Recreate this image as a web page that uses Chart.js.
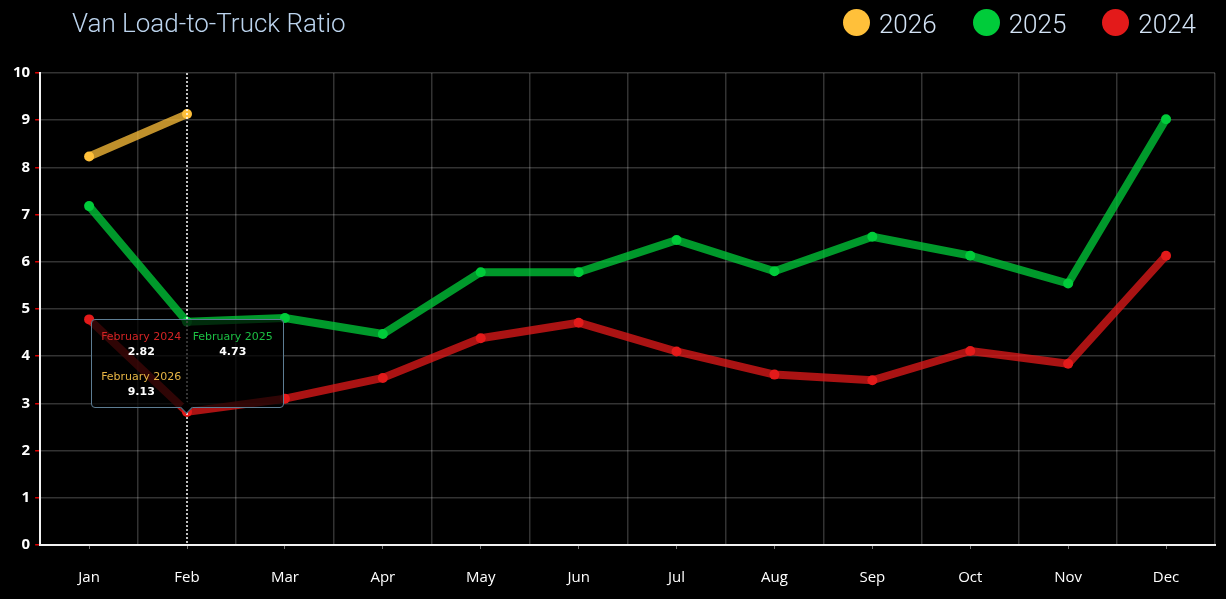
<!DOCTYPE html>
<html>
<head>
<meta charset="utf-8">
<script src="https://cdn.jsdelivr.net/npm/chart.js@4.4.1/dist/chart.umd.min.js"></script>
<style>
  html, body { margin: 0; padding: 0; background: #000; }
  #wrap { position: relative; width: 1226px; height: 599px; overflow: hidden; }
  #title {
    position: absolute; left: 72px; top: 10px;
    font: 300 26px/26px Roboto, sans-serif; color: #bcd4ee; white-space: nowrap;
  }
  #legend {
    position: absolute; right: 30px; top: 9px; display: flex; align-items: center;
    font: 300 26px/26px Roboto, sans-serif; color: #d3e3f5;
  }
  #legend .item { display: flex; align-items: center; margin-left: 36px; }
  #legend .dot { width: 27px; height: 27px; border-radius: 50%; margin-right: 9px; }
  #legend .txt { position: relative; top: 1px; }
  #tip {
    position: absolute; display: none; width: 193px; box-sizing: border-box;
    padding: 10px 4px 8px; background: rgba(0, 0, 0, 0.72);
    border: 1px solid #5d7d93; border-radius: 4px;
    grid-template-columns: 1fr 1fr; row-gap: 11px;
    font: 11px/14px "DejaVu Sans", Verdana, sans-serif; text-align: center;
    pointer-events: none;
  }
  #tip .v { color: #fff; font-weight: bold; margin-top: 1px; }
  #tip::after {
    content: ""; position: absolute; left: 50%; bottom: -5px; width: 8px; height: 8px;
    margin-left: -5px; background: #000; border-right: 1px solid #5d7d93;
    border-bottom: 1px solid #5d7d93; transform: rotate(45deg);
  }
</style>
</head>
<body>
<div id="wrap">
  <canvas id="chart"></canvas>
  <div id="title">Van Load-to-Truck Ratio</div>
  <div id="legend"></div>
  <div id="tip"></div>
</div>
<script>
// DATA
const months = ["Jan", "Feb", "Mar", "Apr", "May", "Jun", "Jul", "Aug", "Sep", "Oct", "Nov", "Dec"];
const monthNames = ["January", "February", "March", "April", "May", "June", "July",
  "August", "September", "October", "November", "December"];
const years = ["2026", "2025", "2024"];
const ratio2026 = [8.23, 9.13, null, null, null, null, null, null, null, null, null, null];
const ratio2025 = [7.18, 4.73, 4.81, 4.47, 5.78, 5.78, 6.46, 5.80, 6.53, 6.13, 5.54, 9.02];
const ratio2024 = [4.78, 2.82, 3.10, 3.54, 4.38, 4.71, 4.10, 3.61, 3.49, 4.11, 3.84, 6.13];
const yTicks = [0, 1, 2, 3, 4, 5, 6, 7, 8, 9, 10];
const activeMonth = 1;

// COLOURS
const pointColors = ["#ffc03a", "#00cc3a", "#e31a1a"];
const lineColors = ["rgba(255,192,58,0.75)", "rgba(0,204,58,0.75)", "rgba(227,26,26,0.75)"];
const tipColors = ["#e6b444", "#1cbf43", "#d22424"];

// TOOLTIP
const tooltipPlugin = Chart.registry.getPlugin("tooltip");
tooltipPlugin.positioners.lowest = function (items) {
  if (!items.length) return false;
  let y = 0;
  items.forEach((it) => { y = Math.max(y, it.element.y); });
  return { x: items[0].element.x, y: y };
};

function externalTip(context) {
  const tooltip = context.tooltip;
  const el = document.getElementById("tip");
  if (tooltip.opacity === 0 || !tooltip.dataPoints || !tooltip.dataPoints.length) {
    el.style.display = "none";
    return;
  }
  el.innerHTML = tooltip.dataPoints.map((dp) =>
    '<div><div style="color:' + tipColors[dp.datasetIndex] + '">' +
    monthNames[dp.dataIndex] + " " + dp.dataset.label + '</div><div class="v">' +
    dp.parsed.y.toFixed(2) + "</div></div>").join("");
  el.style.display = "grid";
  el.style.left = (tooltip.caretX - el.offsetWidth / 2) + "px";
  el.style.top = (tooltip.caretY - el.offsetHeight - 4) + "px";
}

// CROSSHAIR
const crosshair = {
  id: "crosshair",
  afterDatasetsDraw(chart) {
    const act = chart.tooltip.getActiveElements();
    if (!act.length) return;
    const x = act[0].element.x;
    const { top, bottom } = chart.chartArea;
    const ctx = chart.ctx;
    ctx.save();
    ctx.setLineDash([2, 2]);
    ctx.lineWidth = 2;
    ctx.strokeStyle = "rgba(255,255,255,0.75)";
    ctx.beginPath();
    ctx.moveTo(x, top);
    ctx.lineTo(x, bottom);
    ctx.stroke();
    ctx.restore();
  },
};

function series(label, data, i) {
  return {
    label: label,
    data: data,
    borderColor: lineColors[i],
    backgroundColor: pointColors[i],
    pointBackgroundColor: pointColors[i],
    pointBorderWidth: 0,
    pointRadius: 5,
    pointHoverRadius: 5,
    borderWidth: 8,
    borderCapStyle: "round",
    borderJoinStyle: "round",
    tension: 0,
    spanGaps: false,
  };
}

const ctx = document.getElementById("chart");

const chart = new Chart(ctx, {
  type: "line",
  data: {
    labels: months,
    datasets: [
      series(years[0], ratio2026, 0),
      series(years[1], ratio2025, 1),
      series(years[2], ratio2024, 2),
    ],
  },
  options: {
    responsive: true,
    maintainAspectRatio: false,
    animation: false,
    layout: { padding: { left: 8, right: 11, top: 73, bottom: -8 } },
    interaction: { mode: "index", intersect: false },
    plugins: {
      legend: { display: false },
      tooltip: {
        enabled: false,
        position: "lowest",
        external: externalTip,
        itemSort: (a, b) => b.datasetIndex - a.datasetIndex,
      },
    },
    scales: {
      x: {
        offset: true,
        grid: { offset: false, drawOnChartArea: false, tickColor: "rgba(255,255,255,0.45)", tickLength: 4 },
        border: { color: "#f2f2f2", width: 2 },
        ticks: { color: "#fff", padding: 20, font: { family: "Open Sans", size: 15 } },
      },
      xGrid: {
        type: "category",
        position: "top",
        offset: true,
        grid: {
          offset: true,
          drawTicks: false,
          lineWidth: 1.5,
          color: (c) => (c.index === months.length ? "rgba(0,0,0,0)" : "rgba(255,255,255,0.2)"),
        },
        border: { display: false },
        ticks: { display: false },
      },
      y: {
        min: yTicks[0],
        max: yTicks[yTicks.length - 1],
        afterBuildTicks: (scale) => { scale.ticks = yTicks.map((v) => ({ value: v })); },
        grid: { color: "rgba(255,255,255,0.2)", lineWidth: 1.5, tickColor: "#e00000", tickLength: 5 },
        border: { color: "#f2f2f2", width: 2 },
        ticks: { color: "#fff", padding: 5, font: { family: "Open Sans", size: 15, weight: "bold" } },
      },
    },
  },
  plugins: [crosshair],
});

// LEGEND
const legendEl = document.getElementById("legend");
chart.options.plugins.legend.labels.generateLabels(chart).forEach((item, i) => {
  const div = document.createElement("div");
  div.className = "item";
  div.innerHTML = '<span class="dot" style="background:' + pointColors[i] + '"></span><span class="txt">' + item.text + "</span>";
  legendEl.appendChild(div);
});

// SHOW FEBRUARY
const active = years.map((y, i) => ({ datasetIndex: i, index: activeMonth }));
const meta = chart.getDatasetMeta(1);
chart.tooltip.setActiveElements(active, { x: meta.data[activeMonth].x, y: meta.data[activeMonth].y });
chart.update();
</script>
</body>
</html>
